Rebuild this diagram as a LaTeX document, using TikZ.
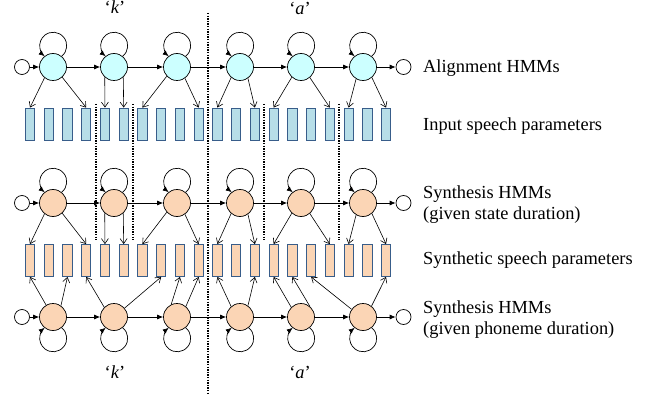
\documentclass[tikz,border=0pt]{standalone}
\usepackage{fontspec}
\setmainfont{Liberation Serif}
\usetikzlibrary{arrows.meta}
\definecolor{stcyan}{HTML}{CCFFFF}
\definecolor{barblue}{HTML}{B7DEE8}
\definecolor{peach}{HTML}{FBD5B5}
\definecolor{barline}{HTML}{385D8A}
\begin{document}
\begin{tikzpicture}[x=1pt,y=1pt,
  state/.style={circle,draw,line width=0.7pt,minimum size=27pt,inner sep=0pt},
  endst/.style={circle,draw,line width=0.7pt,minimum size=15pt,inner sep=0pt},
  bar/.style={rectangle,draw=barline,line width=0.8pt,minimum width=9.3pt,minimum height=32pt,inner sep=0pt},
  trans/.style={line width=0.7pt,-{Latex[length=6pt,width=5pt]}},
  emit/.style={line width=0.6pt,-{Straight Barb[length=5pt,width=7pt]}},
  bound/.style={line width=1.8pt,dash pattern=on 1.4pt off 1.2pt},
  lbl/.style={anchor=base west,inner sep=0pt,font=\fontsize{18.4}{21}\selectfont},
  ph/.style={anchor=base,inner sep=0pt,font=\fontsize{18.4}{21}\selectfont}
]
\useasboundingbox (0,0) rectangle (652,-398);

% boundaries
\coordinate (pb1) at (208,-13);
\coordinate (pb2) at (208,-394);
\draw[bound] (pb1) -- (pb2);
\foreach \x [count=\k] in {96,133,264,339} {
  \coordinate (sbt\k) at (\x,-104);
  \coordinate (sbb\k) at (\x,-240);
  \draw[bound] (sbt\k) -- (sbb\k);
}

% states
\foreach \x [count=\i] in {53,114,177,240,301,363} {
  \node[state,fill=stcyan] (a\i) at (\x,-67) {};
  \node[state,fill=peach] (s\i) at (\x,-203) {};
  \node[state,fill=peach] (p\i) at (\x,-317) {};
}
\foreach \r/\y in {a/67,s/203,p/317} {
  \node[endst] (\r i) at (22,-\y) {};
  \node[endst] (\r f) at (403.5,-\y) {};
  \draw[trans] (\r i) -- (\r 1);
  \draw[trans] (\r 6) -- (\r f);
  \foreach \i [evaluate=\i as \j using int(\i+1)] in {1,...,5} {
    \draw[trans] (\r\i) -- (\r\j);
  }
}

% bars
\foreach \i in {1,...,20} {
  \node[bar,fill=barblue] (t\i) at ({30+18.74*(\i-1)},-124) {};
  \node[bar,fill=peach] (m\i) at ({30+18.74*(\i-1)},-260.5) {};
}

% self loops
\foreach \i in {1,...,6} {
  \draw[trans] (a\i.51) arc[start angle=-51,end angle=231,radius=13.5];
  \draw[trans] (s\i.51) arc[start angle=-51,end angle=231,radius=13.5];
  \draw[trans] (p\i.-51) arc[start angle=51,end angle=-231,radius=13.5];
}

% emissions (top two rows)
\foreach \s/\ang/\b in {1/232/1,1/-48/4,2/228/5,2/-48/6,3/222/7,3/-55/10,
                        4/230/11,4/-55/13,5/228/14,5/-50/17,6/240/18,6/-50/20} {
  \draw[emit] (a\s.\ang) -- (t\b.north);
  \draw[emit] (s\s.\ang) -- (m\b.north);
}
% emissions (bottom row)
\foreach \s/\ang/\b in {1/120/1,1/55/3,2/135/4,2/40/8,3/115/9,3/50/10,
                        4/130/11,4/55/13,5/135/14,5/50/15,6/146/16,6/52/20} {
  \draw[emit] (p\s.\ang) -- (m\b.south);
}

% labels
\node[lbl] (l1) at (423,-73) {Alignment HMMs};
\node[lbl] (l2) at (423,-131) {Input speech parameters};
\node[lbl] (l3) at (423,-198.3) {Synthesis HMMs};
\node[lbl] (l4) at (423,-219.3) {(given state duration)};
\node[lbl] (l5) at (423,-264) {Synthetic speech parameters};
\node[lbl] (l6) at (423,-313.3) {Synthesis HMMs};
\node[lbl] (l7) at (423,-334) {(given phoneme duration)};

\node[ph] (k1) at (115,-14) {‘\textit{k}’};
\node[ph] (a1l) at (300,-14.5) {‘\textit{a}’};
\node[ph] (k2) at (115,-378) {‘\textit{k}’};
\node[ph] (a2l) at (300,-378) {‘\textit{a}’};
\end{tikzpicture}
\end{document}
